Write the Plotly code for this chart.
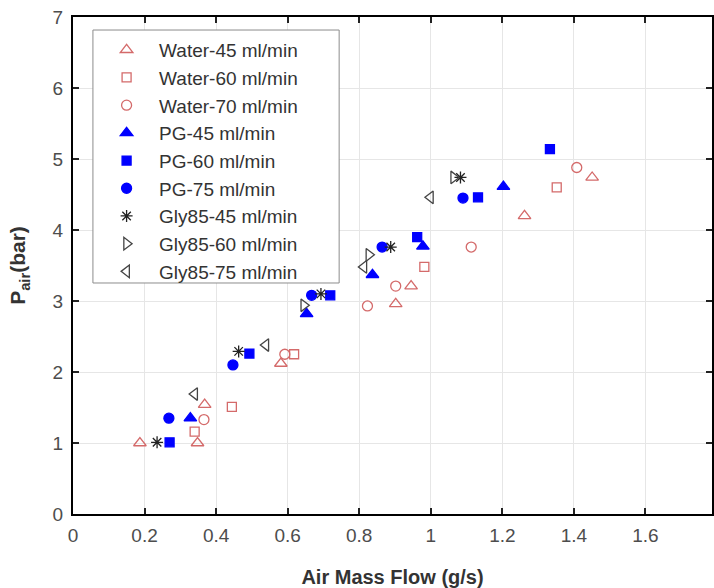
import plotly.graph_objects as go

# ---- data ----
water45_x = [0.187, 0.348, 0.368, 0.581, 0.902, 0.945, 1.262, 1.451]
water45_y = [1.00, 1.00, 1.54, 2.12, 2.96, 3.21, 4.20, 4.74]

water60_x = [0.340, 0.444, 0.618, 0.982, 1.352]
water60_y = [1.16, 1.51, 2.25, 3.48, 4.60]

water70_x = [0.366, 0.592, 0.823, 0.902, 1.113, 1.408]
water70_y = [1.33, 2.25, 2.93, 3.21, 3.76, 4.88]

pg45_x = [0.328, 0.653, 0.837, 0.978, 1.203]
pg45_y = [1.35, 2.82, 3.37, 3.77, 4.61]

pg60_x = [0.270, 0.493, 0.719, 0.962, 1.132, 1.333]
pg60_y = [1.01, 2.26, 3.08, 3.90, 4.46, 5.14]

pg75_x = [0.268, 0.447, 0.667, 0.864, 1.090]
pg75_y = [1.35, 2.10, 3.08, 3.76, 4.45]

gly45_x = [0.235, 0.463, 0.693, 0.888, 1.083]
gly45_y = [1.01, 2.29, 3.10, 3.76, 4.74]

gly60_x = [0.645, 0.827, 1.064]
gly60_y = [2.94, 3.65, 4.74]

gly75_x = [0.340, 0.539, 0.813, 0.999]
gly75_y = [1.69, 2.38, 3.48, 4.46]

x_ticks = [0, 0.2, 0.4, 0.6, 0.8, 1, 1.2, 1.4, 1.6]
x_ticktext = ["0", "0.2", "0.4", "0.6", "0.8", "1", "1.2", "1.4", "1.6"]
y_ticks = [0, 1, 2, 3, 4, 5, 6, 7]

RED = "#d46a6a"
BLUE = "#0000ff"
BLACK = "#222222"
GRAY = "#444444"

series = [
    ("Water-45 ml/min", water45_x, water45_y, "triangle-up-open", RED, 11),
    ("Water-60 ml/min", water60_x, water60_y, "square-open", RED, 9),
    ("Water-70 ml/min", water70_x, water70_y, "circle-open", RED, 10),
    ("PG-45 ml/min", pg45_x, pg45_y, "triangle-up", BLUE, 11),
    ("PG-60 ml/min", pg60_x, pg60_y, "square", BLUE, 9),
    ("PG-75 ml/min", pg75_x, pg75_y, "circle", BLUE, 10),
    ("Gly85-45 ml/min", gly45_x, gly45_y, "asterisk-open", BLACK, 10),
    ("Gly85-60 ml/min", gly60_x, gly60_y, "triangle-right-open", GRAY, 11),
    ("Gly85-75 ml/min", gly75_x, gly75_y, "triangle-left-open", GRAY, 11),
]

fig = go.Figure()
for i, (name, xs, ys, sym, col, sz) in enumerate(series):
    fig.add_trace(go.Scatter(
        x=xs, y=ys, mode="markers", name=name,
        marker=dict(symbol=sym, color=col, size=sz,
                    line=dict(color=col, width=1.3)),
    ))

FONT = "Liberation Sans, Arial, sans-serif"

# legend frame drawn as a white box (wider than plotly's auto legend box)
fig.add_shape(type="rect", xref="paper", yref="paper",
              x0=0.0312, x1=0.4165, y0=0.4648, y1=0.9738,
              line=dict(color="#8c8c8c", width=1), fillcolor="white",
              layer="above")

fig.update_layout(
    width=714, height=588,
    margin=dict(l=73, r=0, t=17, b=74),
    paper_bgcolor="white", plot_bgcolor="white",
    font=dict(family=FONT, color="#444444", size=17),
    showlegend=True,
    legend=dict(
        x=0.033, y=0.972, xanchor="left", yanchor="top",
        bgcolor="rgba(0,0,0,0)", borderwidth=0,
        font=dict(family=FONT, size=19, color="#333333"),
        itemwidth=55,
    ),
    xaxis=dict(
        range=[0, 1.786], tickvals=x_ticks, ticktext=x_ticktext,
        showgrid=True, gridcolor="#e6e6e6", gridwidth=1,
        zeroline=False, showline=True, linecolor="black", linewidth=2,
        mirror="ticks", ticks="inside", ticklen=6, tickwidth=2, tickcolor="#222",
        tickfont=dict(size=19, color="#4d4d4d"), ticklabelstandoff=3,
        title=dict(text="<b>Air Mass Flow (g/s)</b>", font=dict(size=20, color="#333"), standoff=25),
    ),
    yaxis=dict(
        range=[0, 7], tickvals=y_ticks,
        showgrid=True, gridcolor="#e6e6e6", gridwidth=1,
        zeroline=False, showline=True, linecolor="black", linewidth=2,
        mirror="ticks", ticks="inside", ticklen=6, tickwidth=2, tickcolor="#222",
        tickfont=dict(size=19, color="#4d4d4d"), ticklabelstandoff=4,
        title=dict(text="<b>P<sub>air</sub>(bar)</b>", font=dict(size=21, color="#333"), standoff=21),
    ),
)

fig.write_html("out.html")
